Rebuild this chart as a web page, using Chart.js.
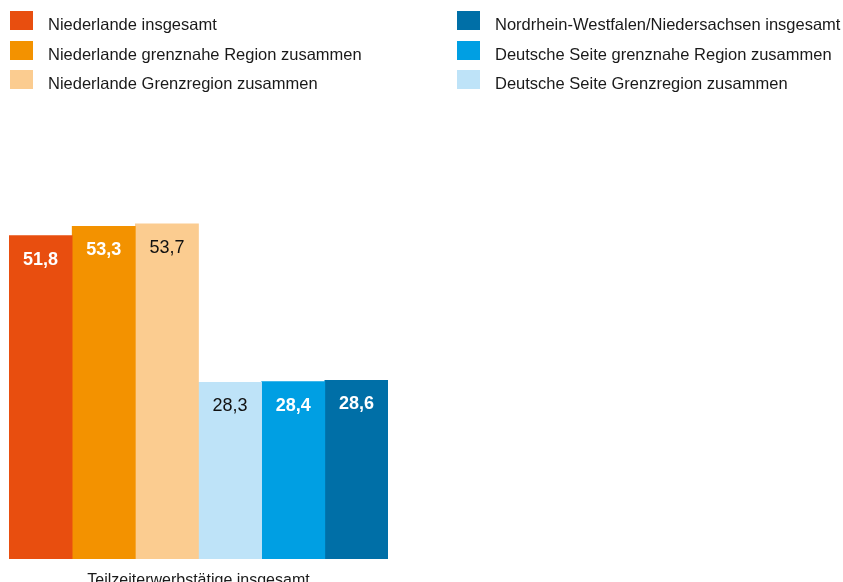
<!DOCTYPE html>
<html lang="de">
<head>
<meta charset="utf-8">
<title>Teilzeiterwerbstätige insgesamt</title>
<script src="https://cdn.jsdelivr.net/npm/chart.js@4.4.1/dist/chart.umd.min.js"></script>
<style>
    html, body { margin: 0; padding: 0; background: #fff; overflow: hidden; }
    #wrap { position: relative; width: 843px; height: 582px; }
    #legend { position: absolute; left: 0; top: 0; width: 843px; height: 100px;
              font-family: "Liberation Sans", Arial, sans-serif; font-size: 16.5px; color: #1a1a1a; }
    .item { position: absolute; height: 19px; white-space: nowrap; }
    .box { position: absolute; left: 0; top: 0; width: 23px; height: 19px; }
    .txt { position: absolute; left: 38px; top: 4px; line-height: 19px; }
</style>
</head>
<body>
<div id="wrap">
    <canvas id="chart" width="843" height="582"></canvas>
    <div id="legend"></div>
</div>
<script>
// Data
const categories = ['Teilzeiterwerbstätige insgesamt'];
const seriesNames = [
    'Niederlande insgesamt',
    'Niederlande grenznahe Region zusammen',
    'Niederlande Grenzregion zusammen',
    'Deutsche Seite Grenzregion zusammen',
    'Deutsche Seite grenznahe Region zusammen',
    'Nordrhein-Westfalen/Niedersachsen insgesamt'
];
const seriesValues = [51.8, 53.3, 53.7, 28.3, 28.4, 28.6];

// Styles
const colors = ['#E84E0F', '#F39200', '#FBCC90', '#BEE3F8', '#009FE3', '#006FA7'];
const labelDark = [false, false, true, true, false, false];
// legend columns: left NL, right DE (top to bottom)
const legendOrder = [0, 1, 2, 5, 4, 3];

const fontFamily = '"Liberation Sans", Arial, sans-serif';

const datasets = seriesNames.map(function(name, i) {
    return {
        label: name,
        data: [seriesValues[i]],
        backgroundColor: colors[i],
        borderWidth: 0,
        categoryPercentage: 1,
        barPercentage: 1
    };
});

// Value labels inside the top of each bar
const valueLabels = {
    id: 'valueLabels',
    afterDatasetsDraw: function(chart) {
        const ctx = chart.ctx;
        ctx.save();
        ctx.textAlign = 'center';
        ctx.textBaseline = 'middle';
        chart.data.datasets.forEach(function(ds, i) {
            const meta = chart.getDatasetMeta(i);
            meta.data.forEach(function(bar, j) {
                const v = ds.data[j];
                ctx.font = (labelDark[i] ? 'normal ' : 'bold ') + '18px ' + fontFamily;
                ctx.fillStyle = labelDark[i] ? '#111111' : '#ffffff';
                ctx.fillText(v.toFixed(1).replace('.', ','), bar.x, bar.y + 24);
            });
        });
        ctx.restore();
    }
};

const chart = new Chart(document.getElementById('chart').getContext('2d'), {
    type: 'bar',
    data: { labels: categories, datasets: datasets },
    options: {
        responsive: false,
        animation: false,
        layout: { padding: { left: 9, right: 455, top: 122, bottom: 0 } },
        plugins: {
            legend: { display: false },
            tooltip: { enabled: false }
        },
        scales: {
            x: {
                grid: { display: false },
                border: { display: false },
                ticks: { color: '#1a1a1a', padding: 4, font: { family: fontFamily, size: 16 } },
                afterFit: function(scale) { scale.height = 23; }
            },
            y: {
                display: false,
                min: 0,
                max: 70
            }
        }
    },
    plugins: [valueLabels]
});

// HTML legend in two columns
const legend = document.getElementById('legend');
legendOrder.forEach(function(idx, k) {
    const col = Math.floor(k / 3);
    const row = k % 3;
    const item = document.createElement('div');
    item.className = 'item';
    item.style.left = (col === 0 ? 10 : 457) + 'px';
    item.style.top = (11 + row * 29.5) + 'px';
    item.innerHTML = '<span class="box" style="background:' + colors[idx] + '"></span>' +
        '<span class="txt">' + chart.data.datasets[idx].label + '</span>';
    legend.appendChild(item);
});
</script>
</body>
</html>
